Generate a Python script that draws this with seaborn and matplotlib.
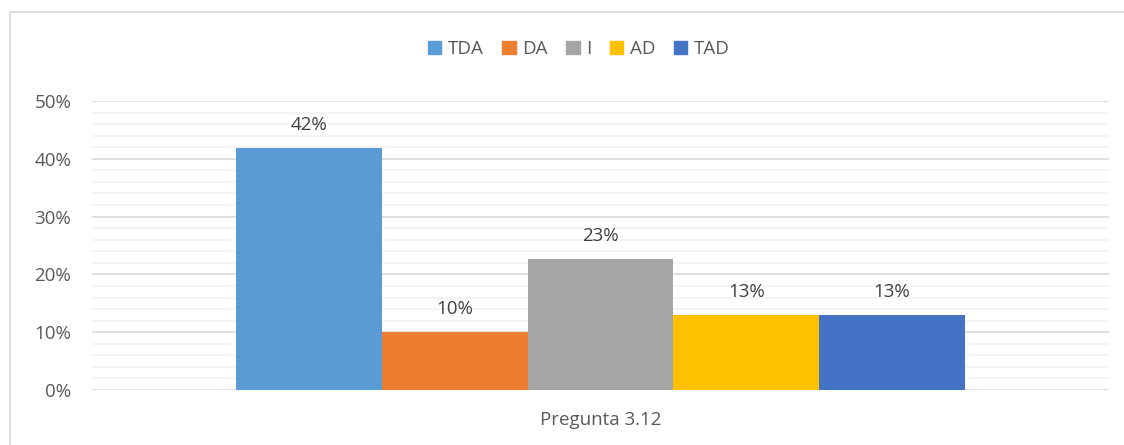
import pandas as pd
import matplotlib.pyplot as plt
import matplotlib.ticker as mticker
from matplotlib.lines import Line2D
import seaborn as sns

categories = ["TDA", "DA", "I", "AD", "TAD"]
values = [0.419, 0.10, 0.227, 0.13, 0.13]
colors = ["#5B9BD5", "#ED7D31", "#A5A5A5", "#FFC000", "#4472C4"]
group = "Pregunta 3.12"

df = pd.DataFrame({"pregunta": [group] * len(categories), "cat": categories, "valor": values})

sns.set_theme(style="white")
plt.rcParams["font.family"] = ["Open Sans", "DejaVu Sans"]

fig = plt.figure(figsize=(11.24, 4.45), dpi=100)
ax = fig.add_axes([0.0819, 0.1236, 0.9048, 0.6494])

sns.barplot(data=df, x="pregunta", y="valor", hue="cat", palette=colors,
            width=0.716, gap=0, saturation=1, linewidth=0, ax=ax, legend=False, zorder=3)

ax.set_ylim(0, 0.5)
ax.set_xlim(-0.5, 0.5)
ax.yaxis.set_major_locator(mticker.MultipleLocator(0.1))
ax.yaxis.set_minor_locator(mticker.MultipleLocator(0.02))
ax.yaxis.set_major_formatter(mticker.PercentFormatter(1.0, decimals=0))
ax.grid(axis="y", which="major", color="#D9D9D9", lw=1.2, zorder=0)
ax.grid(axis="y", which="minor", color="#F2F2F2", lw=1.2, zorder=0)
for s in ax.spines.values():
    s.set_visible(False)
ax.tick_params(axis="y", which="both", length=0, labelsize=13.5, labelcolor="#595959", pad=15)
ax.tick_params(axis="x", length=0, labelsize=13.5, labelcolor="#595959", pad=15)
ax.set_xlabel("")
ax.set_ylabel("")

for c in ax.containers:
    ax.bar_label(c, labels=[f"{v*100:.0f}%" for v in c.datavalues],
                 padding=10, fontsize=13.5, color="#404040")

handles = [plt.Rectangle((0, 0), 1, 1, color=col) for col in colors]
fig.legend(handles, categories, loc="center", bbox_to_anchor=(0.515, 0.89), ncol=5,
           frameon=False, fontsize=13.5, handlelength=0.7, handleheight=0.7,
           handletextpad=0.35, columnspacing=1.0, labelcolor="#595959")

# chart frame
fig.add_artist(Line2D([10 / 1124, 1], [1 - 12 / 445, 1 - 12 / 445], color="#D9D9D9", lw=1.2))
fig.add_artist(Line2D([10 / 1124, 10 / 1124], [0, 1 - 12 / 445], color="#D9D9D9", lw=1.2))

fig.savefig("out.png", dpi=100)
